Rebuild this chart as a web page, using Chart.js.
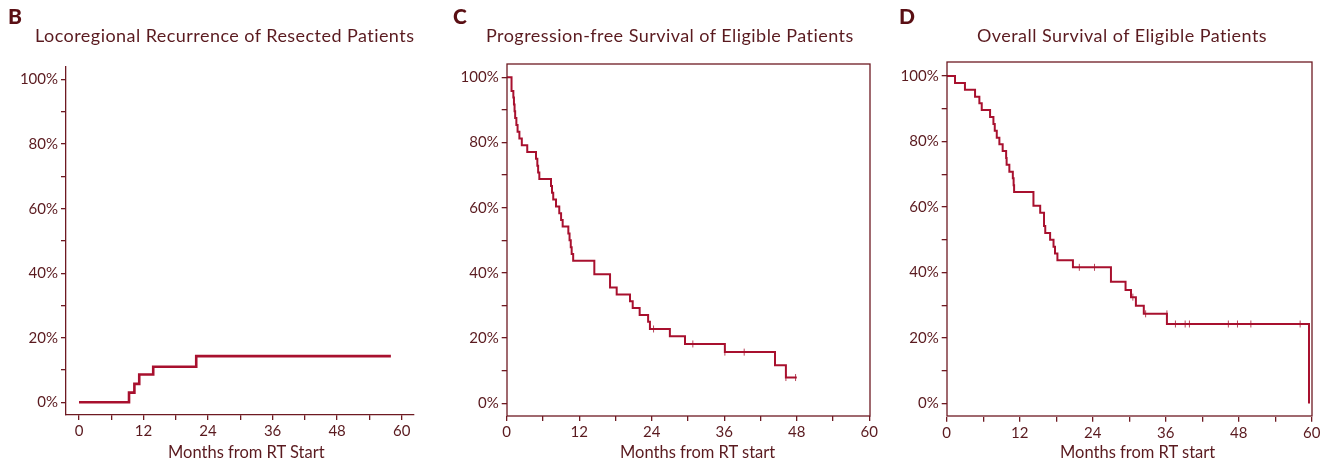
<!DOCTYPE html>
<html>
<head>
  <title>Recurrence and Survival</title>
  <script src="https://cdn.jsdelivr.net/npm/chart.js"></script>
  <style>
    body { margin: 0; background: #fff; }
    #wrap { position: relative; width: 1337px; height: 467px; overflow: hidden; font-family: Lato, "Open Sans", sans-serif; color: #5a1a1f; }
    canvas { position: absolute; top: 0; }
    .txt { position: absolute; white-space: nowrap; line-height: 20px; }
    .letter { font-weight: 900; font-size: 21px; color: #5a0f14; top: 6px; }
    .ttl { font-size: 18px; top: 25px; letter-spacing: 0.45px; }
    .xt { font-size: 16.5px; top: 442px; }
  </style>
</head>
<body>
<div id="wrap">
  <canvas id="chartB" width="440" height="467" style="left:0px"></canvas>
  <canvas id="chartC" width="440" height="467" style="left:440px"></canvas>
  <canvas id="chartD" width="457" height="467" style="left:880px"></canvas>

  <div class="txt letter" style="left:8px">B</div>
  <div class="txt ttl" style="left:35px">Locoregional Recurrence of Resected Patients</div>
  <div class="txt xt" style="left:168px">Months from RT Start</div>

  <div class="txt letter" style="left:453px">C</div>
  <div class="txt ttl" style="left:486px">Progression-free Survival of Eligible Patients</div>
  <div class="txt xt" style="left:620px">Months from RT start</div>

  <div class="txt letter" style="left:899px">D</div>
  <div class="txt ttl" style="left:977px">Overall Survival of Eligible Patients</div>
  <div class="txt xt" style="left:1060px">Months from RT start</div>
</div>

<script>
  // tick labels
  const xTicks = [0, 6, 12, 18, 24, 30, 36, 42, 48, 54, 60];
  const yTicks = [0, 10, 20, 30, 40, 50, 60, 70, 80, 90, 100];

  // B: locoregional recurrence (cumulative %)
  const lrTime = [0, 9.3, 10.3, 11.2, 13.8, 21.8, 58.0];
  const lrPct  = [0, 3.0, 5.7, 8.6, 11.0, 14.3, 14.3];

  // C: progression-free survival (%)
  const pfsTime = [0, 0.8, 1.1, 1.2, 1.3, 1.4, 1.6, 1.8, 2.1, 2.5, 3.4, 4.85, 5.07, 5.2, 5.4,
                   7.33, 7.5, 7.7, 8.16, 8.7, 9.0, 9.26, 10.2, 10.4, 10.6, 10.75, 11.0,
                   14.5, 17.1, 18.2, 20.4, 20.85, 22.0, 23.4, 23.7, 27.0, 29.5, 36.1, 44.4, 46.2, 48.0];
  const pfsSurv = [100, 95.8, 93.8, 91.7, 89.6, 87.5, 85.4, 83.3, 81.2, 79.2, 77.1, 75.0, 72.9, 70.8, 68.8,
                   66.7, 64.6, 62.5, 60.4, 58.3, 56.2, 54.2, 52.1, 50.0, 47.9, 45.8, 43.7,
                   39.6, 35.5, 33.4, 31.3, 29.2, 27.1, 25.0, 22.8, 20.6, 18.2, 15.7, 11.7, 7.9, 7.9];
  const pfsCensTime = [24.3, 30.8, 36.1, 39.3, 46.2, 47.8];
  const pfsCensSurv = [22.8, 18.2, 15.7, 15.7, 7.9, 7.9];

  // D: overall survival (%)
  const osTime = [0, 1.37, 3.0, 4.66, 5.37, 5.76, 7.13, 7.68, 7.9, 8.23, 8.66, 9.2, 9.77, 9.85,
                  10.3, 10.87, 11.0, 11.08, 14.26, 15.37, 16.0, 16.2, 17.0, 17.56, 17.8, 18.2,
                  20.75, 27.0, 29.4, 30.3, 31.1, 32.4, 36.2, 59.56];
  const osSurv = [100, 97.9, 95.8, 93.7, 91.7, 89.6, 87.5, 85.4, 83.3, 81.2, 79.2, 77.1, 75.0, 72.9,
                  70.8, 68.8, 66.7, 64.6, 60.4, 58.3, 54.2, 52.1, 50.0, 47.9, 45.8, 43.8,
                  41.6, 37.2, 34.7, 32.5, 29.9, 27.4, 24.3, 0];
  const osCensTime = [21.8, 24.3, 30.6, 32.7, 36.2, 37.6, 39.2, 39.9, 46.3, 47.8, 50.0, 58.1];
  const osCensSurv = [41.6, 41.6, 32.5, 27.4, 27.4, 24.3, 24.3, 24.3, 24.3, 24.3, 24.3, 24.3];

  const curveColor = '#a8102e';
  const axisColor = '#6e1a22';
  const textColor = '#5a1a1f';
  const tickFont = { family: 'Lato, "Open Sans", sans-serif', size: 15 };

  const pts = (xs, ys) => xs.map((x, i) => ({ x: x, y: ys[i] }));

  // box around the plot area for C and D
  const framePlugin = {
    id: 'frame',
    afterDraw(chart, args, opts) {
      if (!opts.show) return;
      const a = chart.chartArea, ctx = chart.ctx;
      ctx.save();
      ctx.strokeStyle = axisColor;
      ctx.lineWidth = 1.3;
      ctx.strokeRect(Math.round(a.left), Math.round(a.top),
                     Math.round(a.right - a.left), Math.round(a.bottom - a.top));
      ctx.restore();
    }
  };

  function makeChart(id, cfg) {
    const datasets = [{
      data: pts(cfg.time, cfg.val),
      stepped: true,
      borderColor: curveColor,
      borderWidth: cfg.lineWidth,
      pointRadius: 0,
      fill: false
    }];
    if (cfg.censTime) {
      datasets.push({
        data: pts(cfg.censTime, cfg.censVal),
        showLine: false,
        pointStyle: 'line',
        rotation: 90,
        pointRadius: 3.5,
        borderWidth: 1,
        borderColor: '#b8455a'
      });
    }
    new Chart(document.getElementById(id).getContext('2d'), {
      type: 'line',
      data: { datasets: datasets },
      plugins: [framePlugin],
      options: {
        responsive: false,
        animation: false,
        layout: { padding: cfg.pad },
        plugins: { legend: { display: false }, tooltip: { enabled: false }, frame: { show: cfg.frame } },
        scales: {
          x: {
            type: 'linear',
            min: cfg.xMin, max: cfg.xMax,
            afterBuildTicks: s => { s.ticks = xTicks.map(v => ({ value: v })); },
            afterFit: s => { s.height = 30; },
            ticks: {
              color: textColor, font: tickFont, padding: 2, maxRotation: 0,
              callback: v => (v % 12 === 0 ? String(v) : '')
            },
            grid: { drawOnChartArea: false, drawTicks: true, tickLength: 5, color: axisColor, lineWidth: 1.3 },
            border: { display: !cfg.frame, color: axisColor, width: 1.3 }
          },
          y: {
            type: 'linear',
            min: cfg.yMin, max: cfg.yMax,
            afterBuildTicks: s => { s.ticks = yTicks.map(v => ({ value: v })); },
            afterFit: s => { s.width = cfg.yWidth; },
            ticks: {
              color: textColor, font: tickFont, padding: 3,
              callback: v => (v % 20 === 0 ? v + '%' : '')
            },
            grid: { drawOnChartArea: false, drawTicks: true, tickLength: 5, color: axisColor, lineWidth: 1.3 },
            border: { display: !cfg.frame, color: axisColor, width: 1.3 }
          }
        }
      }
    });
  }

  makeChart('chartB', {
    time: lrTime, val: lrPct, lineWidth: 2.6, frame: false,
    xMin: -2.42, xMax: 62.3, yMin: -3.94, yMax: 103.9,
    yWidth: 60, pad: { left: 6, right: 26, top: 67, bottom: 22 }
  });
  makeChart('chartC', {
    time: pfsTime, val: pfsSurv, censTime: pfsCensTime, censVal: pfsCensSurv,
    lineWidth: 2, frame: true,
    xMin: 0, xMax: 60, yMin: -3.9, yMax: 104,
    yWidth: 60.7, pad: { left: 6, right: 10, top: 64.3, bottom: 21 }
  });
  makeChart('chartD', {
    time: osTime, val: osSurv, censTime: osCensTime, censVal: osCensSurv,
    lineWidth: 2, frame: true,
    xMin: 0, xMax: 60, yMin: -4, yMax: 104.2,
    yWidth: 60.7, pad: { left: 6, right: 25.3, top: 62.3, bottom: 20.3 }
  });
</script>
</body>
</html>
